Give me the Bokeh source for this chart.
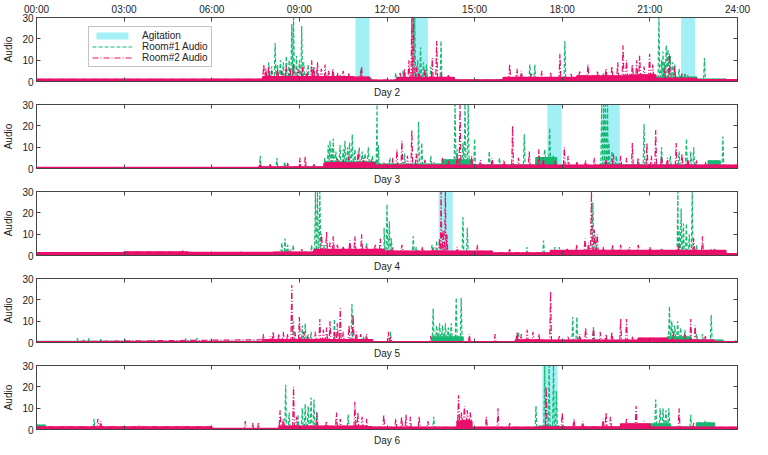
from bokeh.plotting import figure
from bokeh.models import Range1d, LinearAxis, FixedTicker, Legend, LegendItem, CustomLabelingPolicy
from bokeh.layouts import column
from bokeh.embed import file_html
from bokeh.resources import INLINE

# ---------------- data (hours of day, audio level) ----------------
HOUR_TICKS = [0, 3, 6, 9, 12, 15, 18, 21, 24]
HOUR_LABELS = ["00:00", "03:00", "06:00", "09:00", "12:00", "15:00", "18:00", "21:00", "24:00"]
Y_TICKS = [0, 10, 20, 30]
DAYS = ["Day 2", "Day 3", "Day 4", "Day 5", "Day 6"]

D2_AGIT = [(10.92, 11.40), (12.86, 13.40), (22.07, 22.55)]
D3_AGIT = [(17.49, 17.98), (19.38, 19.97)]
D4_AGIT = [(13.77, 14.25)]
D5_AGIT = []
D6_AGIT = [(17.32, 17.84)]

# Room#2 (magenta) baseline segments and spikes
D2_M_BASE = [(0, 7.75, 1.0), (7.75, 10.85, 2.2), (10.85, 11.4, 2.0), (11.4, 12.35, 0.6), (12.35, 14.3, 1.8),
             (14.3, 15.98, 0.7), (15.98, 18.5, 1.8), (18.5, 20.3, 2.6), (20.3, 21.2, 3.0), (21.2, 22.6, 1.4), (22.6, 24, 0.8)]
D2_M_SPK = [(7.78, 8), (7.85, 6), (7.95, 7), (8.05, 5), (8.25, 6), (8.4, 5), (8.55, 7), (8.68, 6), (8.8, 8), (8.95, 6),
            (9.1, 7), (9.25, 5), (9.42, 10), (9.5, 7), (9.62, 9), (9.75, 6), (9.88, 8), (10.0, 5), (10.15, 6), (10.3, 4),
            (10.5, 5), (10.7, 4), (11.13, 7), (12.45, 4), (12.6, 6), (12.75, 10), (12.85, 30), (12.9, 30), (13.0, 7),
            (13.1, 5), (13.3, 6), (13.55, 11), (13.7, 19), (13.85, 4), (14.1, 3), (16.2, 8), (16.45, 6), (16.6, 5),
            (16.95, 4), (17.3, 5), (17.6, 4), (17.92, 13), (18.3, 4), (18.6, 5), (18.88, 8), (19.2, 5), (19.5, 6),
            (19.7, 7), (19.9, 9), (20.08, 17), (20.2, 10), (20.4, 8), (20.55, 10), (20.65, 12), (20.8, 7), (20.99, 13),
            (21.1, 8), (21.5, 6), (21.67, 13), (21.85, 7), (22.1, 4), (22.3, 3)]
D3_M_BASE = [(0, 7.6, 0.4), (7.6, 9.85, 0.7), (9.85, 11.6, 2.5), (11.6, 24, 1.5)]
D3_M_SPK = [(7.66, 3), (8.0, 2), (8.6, 2.5), (9.02, 5), (9.2, 5.5), (9.5, 2), (10.1, 4), (10.3, 5), (10.5, 4), (10.7, 6),
            (11.01, 8), (11.2, 5), (11.45, 4), (11.9, 3), (12.2, 5), (12.34, 9), (12.51, 13), (12.7, 6), (12.85, 18),
            (13.0, 7), (13.3, 4), (13.6, 3), (13.9, 5), (14.1, 4), (14.4, 6), (14.5, 30), (14.9, 6), (15.2, 4), (15.6, 5),
            (16.0, 4), (16.3, 20), (16.5, 5), (16.87, 8), (17.2, 9), (17.35, 5), (17.75, 4), (18.07, 10), (18.2, 6),
            (18.5, 3), (18.8, 4), (19.1, 5), (19.5, 5), (19.75, 7), (20.0, 6), (20.2, 5), (20.4, 12), (20.6, 5),
            (20.9, 12), (21.05, 6), (21.2, 18), (21.4, 6), (21.6, 5), (21.9, 12), (22.1, 7), (22.3, 5), (22.6, 4),
            (22.9, 3), (23.2, 2), (23.5, 2)]
D4_M_BASE = [(0, 3.0, 1.3), (3.0, 5.2, 1.6), (5.2, 8.1, 1.4), (8.1, 9.5, 1.5), (9.5, 11.9, 2.8), (11.9, 15.6, 2.0),
             (15.6, 17.6, 1.2), (17.6, 23.6, 2.3), (23.6, 24, 0.8)]
D4_M_SPK = [(5.0, 2.2), (7.0, 2), (8.7, 3), (9.08, 3), (9.76, 10), (9.93, 11), (10.05, 6), (10.16, 9), (10.3, 5),
            (10.5, 4), (10.73, 7), (10.9, 9), (11.13, 10), (11.3, 4), (11.6, 5), (11.77, 8), (12.2, 4), (12.51, 5),
            (13.2, 4), (13.6, 4), (13.8, 8), (13.85, 30), (13.92, 12), (14.0, 30), (14.05, 10), (14.4, 4), (15.1, 5),
            (16.2, 3), (18.17, 3), (18.5, 5), (18.78, 8), (18.9, 6), (19.0, 30), (19.1, 12), (19.2, 10), (19.4, 4),
            (19.73, 5), (20.0, 5), (20.3, 4), (20.6, 5), (21.0, 4), (21.4, 3), (22.0, 5), (22.5, 8), (22.8, 9), (23.2, 3)]
D5_M_BASE = [(0, 7.75, 0.3), (7.75, 11.5, 1.3), (11.5, 16.4, 0.3), (16.4, 17.4, 1.2), (17.4, 20.6, 1.0),
             (20.6, 21.6, 2.0), (21.6, 23.2, 1.0), (23.2, 24, 0.3)]
D5_M_SPK = [(7.77, 4), (8.0, 3), (8.1, 5), (8.3, 4), (8.45, 5), (8.6, 4), (8.74, 27), (8.85, 5), (9.0, 12), (9.15, 5),
            (9.3, 4), (9.55, 5), (9.7, 11), (9.82, 6), (9.93, 7), (10.05, 10), (10.2, 5), (10.3, 9), (10.4, 16),
            (10.5, 5), (10.7, 8), (10.84, 13), (10.95, 5), (11.1, 4), (11.3, 4), (12.05, 5), (12.12, 3), (13.5, 3),
            (14.82, 4), (15.7, 4), (16.45, 5), (16.6, 4), (16.8, 6), (17.0, 5), (17.2, 4), (17.6, 24), (17.9, 3),
            (18.2, 3), (18.6, 4), (18.8, 7), (19.07, 7), (19.3, 5), (19.5, 4), (19.7, 5), (20.0, 11), (20.2, 11),
            (20.4, 3), (21.8, 5), (22.2, 4), (22.4, 11), (22.55, 8), (22.9, 3)]
D6_M_BASE = [(0, 6.0, 1.2), (6.0, 8.3, 0.4), (8.3, 11.3, 1.5), (11.3, 14.4, 1.0), (14.4, 14.9, 4.0), (14.9, 17.2, 1.0),
             (17.2, 20.0, 1.2), (20.0, 21.0, 2.5), (21.0, 24, 1.0)]
D6_M_SPK = [(1.0, 1.8), (2.1, 5), (2.2, 4), (3.5, 1.8), (5.0, 1.6), (7.15, 4), (7.4, 3), (7.6, 3), (8.34, 9), (8.45, 5),
            (8.8, 20), (8.9, 6), (9.6, 8), (9.93, 4), (10.27, 8), (10.4, 5), (10.9, 13), (11.0, 8), (11.15, 6),
            (11.3, 5), (11.89, 7), (12.3, 5), (12.5, 6), (12.65, 7), (12.8, 6), (13.1, 6), (13.4, 4), (14.45, 16),
            (14.55, 8), (14.65, 11), (14.75, 9), (14.85, 8), (15.4, 6), (15.8, 10), (16.2, 3), (17.45, 20), (18.0, 8),
            (18.4, 5), (18.7, 4), (19.4, 5), (19.5, 8), (19.65, 6), (20.2, 5), (20.53, 11), (20.8, 4), (22.0, 10),
            (22.5, 3)]

# Room#1 (green) baseline segments and spikes
D2_G_BASE = [(0, 7.75, 0.6), (7.75, 11.45, 1.5), (11.45, 12.35, 0.3), (12.35, 14.3, 1.5), (14.3, 15.98, 0.5),
             (15.98, 21.2, 1.2), (21.2, 22.6, 2.0), (22.6, 23.6, 1.0), (23.6, 24, 0.4)]
D2_G_SPK = [(7.95, 9), (8.05, 7), (8.17, 18), (8.25, 8), (8.35, 10), (8.45, 9), (8.55, 12), (8.65, 10), (8.74, 27),
            (8.8, 30), (8.9, 12), (9.0, 10), (9.08, 26), (9.15, 9), (9.3, 8), (9.45, 6), (9.6, 5), (10.0, 4),
            (10.4, 3), (11.1, 6), (12.3, 4), (12.55, 5), (12.95, 30), (13.05, 10), (13.15, 16), (13.25, 9), (13.35, 8),
            (13.5, 7), (13.85, 19), (16.89, 8), (17.06, 8), (18.09, 19), (19.4, 4), (20.3, 3), (21.31, 30),
            (21.4, 10), (21.45, 14), (21.5, 9), (21.56, 17), (21.62, 15), (21.7, 12), (21.78, 9), (21.85, 8),
            (22.0, 6), (22.2, 4), (22.87, 11)]
D3_G_BASE = [(0, 7.6, 0.3), (7.6, 9.9, 0.5), (9.9, 11.6, 3.0), (11.6, 13.9, 2.0), (13.9, 14.9, 4.0), (14.9, 17.1, 1.5),
             (17.1, 17.8, 5.0), (17.8, 19.3, 1.0), (19.3, 20.0, 2.0), (20.0, 22.6, 1.5), (22.6, 23.0, 0.8),
             (23.0, 23.4, 3.5), (23.4, 24, 0.8)]
D3_G_SPK = [(7.66, 6), (8.23, 5), (8.5, 3), (9.87, 5), (9.99, 11), (10.05, 13), (10.12, 10), (10.16, 14), (10.25, 8),
            (10.39, 11), (10.5, 9), (10.56, 13), (10.65, 10), (10.72, 12), (10.81, 16), (10.9, 9), (11.05, 10),
            (11.15, 8), (11.25, 7), (11.36, 10), (11.5, 6), (11.66, 30), (11.7, 11), (12.1, 5), (12.6, 7), (13.08, 22),
            (13.19, 12), (13.5, 6), (14.33, 30), (14.4, 9), (14.6, 12), (14.67, 30), (14.78, 30), (15.0, 14),
            (15.5, 8), (15.85, 5), (16.7, 16), (17.4, 9), (17.57, 19), (17.7, 6), (19.35, 30), (19.42, 30),
            (19.48, 30), (19.55, 30), (19.6, 12), (19.7, 8), (19.85, 6), (20.8, 21), (21.4, 10), (21.7, 6), (22.0, 8),
            (22.25, 14), (22.4, 8), (22.5, 10), (23.5, 15)]
D4_G_BASE = [(0, 8.2, 0.4), (8.2, 11.9, 1.0), (11.9, 15.6, 0.8), (15.6, 24, 0.6)]
D4_G_SPK = [(8.4, 6), (8.51, 8), (8.6, 5), (8.79, 5), (9.2, 2), (9.42, 5), (9.55, 30), (9.62, 30), (9.7, 30),
            (9.85, 5), (10.0, 3), (10.4, 3), (11.3, 6), (11.5, 3), (11.9, 13), (12.0, 24), (12.08, 16), (12.15, 8),
            (12.9, 9), (13.0, 4), (13.54, 5), (13.7, 7), (14.6, 18), (14.75, 13), (16.79, 4), (17.36, 7), (17.75, 4),
            (17.9, 4), (19.05, 25), (19.15, 9), (21.96, 30), (22.0, 12), (22.07, 22), (22.15, 15), (22.25, 15),
            (22.35, 10), (22.45, 30), (22.6, 5), (23.1, 3), (23.25, 3)]
D5_G_BASE = [(0, 7.75, 0.4), (7.75, 11.5, 0.8), (11.5, 13.55, 0.3), (13.55, 14.6, 2.5), (14.6, 18.2, 0.3),
             (18.2, 21.6, 0.8), (21.6, 22.4, 2.5), (22.4, 23.5, 1.0), (23.5, 24, 0.3)]
D5_G_SPK = [(1.4, 2), (1.6, 1.5), (1.8, 2), (2.2, 1.5), (3.04, 1.5), (4.0, 1.2), (5.1, 2), (5.3, 1.5), (5.5, 2.2),
            (8.8, 10), (9.1, 8), (9.2, 9), (9.4, 5), (10.2, 11), (10.8, 18), (11.2, 3), (12.12, 5), (13.58, 16),
            (13.7, 8), (13.8, 9), (13.9, 8), (14.0, 9), (14.1, 7), (14.2, 9), (14.37, 21), (14.54, 21), (16.5, 5),
            (18.36, 12), (18.5, 12), (19.07, 7), (21.67, 17), (21.75, 10), (21.85, 8), (21.95, 10), (22.05, 7),
            (22.2, 6), (22.6, 4), (22.8, 4), (23.1, 13), (23.95, 1)]
D6_G_BASE = [(0, 0.3, 2.0), (0.3, 6.0, 0.6), (6.0, 8.4, 0.3), (8.4, 11.3, 1.0), (11.3, 17.2, 0.3), (17.2, 17.9, 1.5),
             (17.9, 21.0, 0.6), (21.0, 21.7, 2.5), (21.7, 22.6, 1.0), (22.6, 23.2, 3.0), (23.2, 24, 0.3)]
D6_G_SPK = [(1.97, 5), (8.53, 21), (8.65, 8), (8.95, 7), (9.1, 10), (9.2, 12), (9.3, 11), (9.4, 15), (9.5, 14),
            (9.6, 8), (10.67, 7), (13.6, 6), (17.1, 11), (17.4, 30), (17.55, 30), (17.7, 30), (17.8, 18), (21.2, 14),
            (21.35, 10), (21.45, 10), (21.55, 9), (21.65, 10), (22.4, 7), (22.7, 3), (22.9, 4)]

# ---------------- styling ----------------
FONT = "Liberation Sans"
GREEN = "#16b872"
MAGENTA = "#ea0f6b"
CYAN = "#a2f0f6"
AXC = "#444444"


def level_at(base, t):
    for t0, t1, lv in base:
        if t0 <= t <= t1:
            return lv
    return 0.0


def trace(base, spikes, w=0.03):
    pts = []
    for t0, t1, lv in base:
        pts.append((t0, lv))
        pts.append((t1, lv))
    for t, h in spikes:
        b = level_at(base, t)
        pts += [(t - w, b), (t, h), (t + w, b)]
    pts.sort(key=lambda q: q[0])
    return [q[0] for q in pts], [q[1] for q in pts]


def step(base):
    xs, ys = [], []
    for t0, t1, lv in base:
        xs += [t0, t1]
        ys += [lv, lv]
    return xs, ys


def style_axis(ax, labels):
    ax.axis_line_color = AXC
    ax.major_tick_line_color = AXC
    ax.major_tick_in = 4
    ax.major_tick_out = 0
    ax.minor_tick_line_color = None
    ax.major_label_text_font = FONT
    ax.major_label_text_color = "#222222"
    ax.axis_label_text_font = FONT
    ax.axis_label_text_font_style = "normal"
    ax.axis_label_text_font_size = "10px"
    ax.axis_label_text_color = "#222222"
    if labels:
        ax.major_label_text_font_size = "10px"
        ax.major_label_standoff = 3
    else:
        # tick marks only: no tick label is drawn
        ax.major_label_text_font_size = "1px"
        ax.major_label_standoff = 0
        ax.major_label_policy = CustomLabelingPolicy(code="return new Set()")


def make_fig(day, agit, g_base, g_spk, m_base, m_spk, first):
    p = figure(frame_width=701, frame_height=64, x_range=Range1d(0, 24), y_range=Range1d(0, 30),
               x_axis_location=None, y_axis_location=None, output_backend="svg", toolbar_location=None,
               min_border_left=36, min_border_right=15, min_border_top=2, min_border_bottom=2)
    p.grid.visible = False
    p.outline_line_color = AXC
    p.background_fill_color = "white"

    xt = FixedTicker(ticks=HOUR_TICKS)
    yt = FixedTicker(ticks=Y_TICKS)

    left = LinearAxis(ticker=yt, axis_label="Audio", axis_label_standoff=5)
    style_axis(left, True)
    p.add_layout(left, "left")

    right = LinearAxis(ticker=yt)
    style_axis(right, False)
    p.add_layout(right, "right")

    topax = LinearAxis(ticker=xt)
    style_axis(topax, first)
    if first:
        topax.major_label_overrides = {t: s for t, s in zip(HOUR_TICKS, HOUR_LABELS)}
    p.add_layout(topax, "above")

    bot = LinearAxis(ticker=xt, axis_label=day, axis_label_standoff=1)
    style_axis(bot, False)
    p.add_layout(bot, "below")

    ag = None
    if agit:
        ag = p.quad(left=[a[0] for a in agit], right=[a[1] for a in agit], bottom=0, top=30,
                    fill_color=CYAN, line_color=None)

    gx, gy = step(g_base)
    p.varea(x=gx, y1=0, y2=gy, fill_color=GREEN)
    p.line(gx, gy, line_color=GREEN, line_width=1.6)
    gx, gy = trace(g_base, g_spk)
    gl = p.line(gx, gy, line_color=GREEN, line_width=1.2, line_dash="4 2")

    mx, my = step(m_base)
    p.varea(x=mx, y1=0, y2=my, fill_color=MAGENTA)
    p.line(mx, my, line_color=MAGENTA, line_width=1.6)
    mx, my = trace(m_base, m_spk)
    ml = p.line(mx, my, line_color=MAGENTA, line_width=1.2, line_dash="6 2 1 2")

    if first:
        leg = Legend(items=[LegendItem(label="Agitation", renderers=[ag]),
                            LegendItem(label="Room#1 Audio", renderers=[gl]),
                            LegendItem(label="Room#2 Audio", renderers=[ml])],
                     location=(52, 14))
        leg.label_text_font = FONT
        leg.label_text_font_size = "10px"
        leg.label_text_color = "#222222"
        leg.glyph_width = 40
        leg.glyph_height = 9
        leg.label_height = 9
        leg.spacing = 0
        leg.padding = 3
        leg.margin = 0
        leg.label_standoff = 10
        leg.border_line_color = "#888888"
        leg.background_fill_alpha = 1
        p.add_layout(leg, "center")
    return p


figs = [
    make_fig(DAYS[0], D2_AGIT, D2_G_BASE, D2_G_SPK, D2_M_BASE, D2_M_SPK, True),
    make_fig(DAYS[1], D3_AGIT, D3_G_BASE, D3_G_SPK, D3_M_BASE, D3_M_SPK, False),
    make_fig(DAYS[2], D4_AGIT, D4_G_BASE, D4_G_SPK, D4_M_BASE, D4_M_SPK, False),
    make_fig(DAYS[3], D5_AGIT, D5_G_BASE, D5_G_SPK, D5_M_BASE, D5_M_SPK, False),
    make_fig(DAYS[4], D6_AGIT, D6_G_BASE, D6_G_SPK, D6_M_BASE, D6_M_SPK, False),
]

layout = column(*figs, spacing=0)
open("out.html", "w").write(file_html(layout, INLINE))
